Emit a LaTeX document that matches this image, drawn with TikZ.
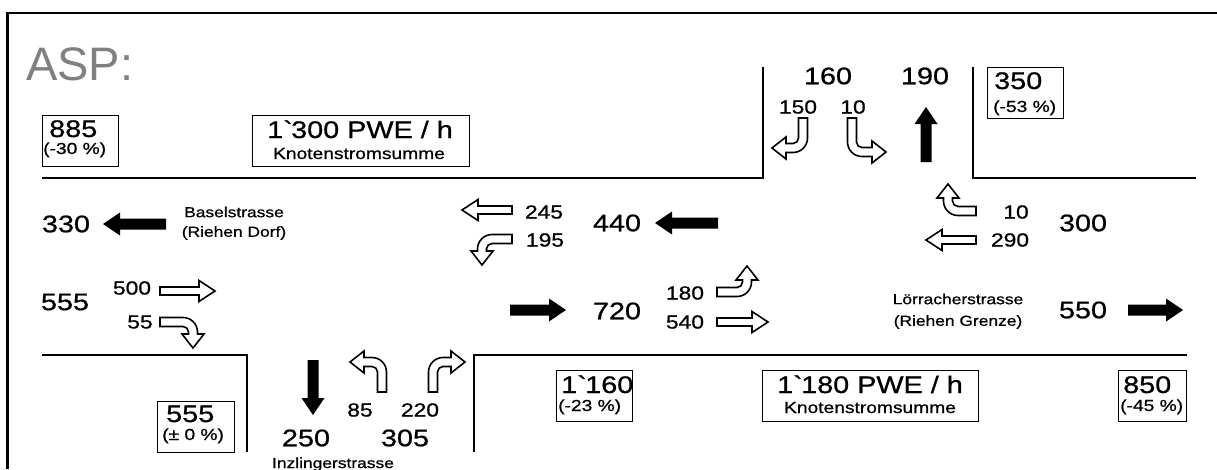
\documentclass[tikz,border=0pt]{standalone}
\usepackage{fontspec}
\setmainfont[FakeStretch=1.2, FakeBold=0.8]{Liberation Sans}
\newfontfamily\aspfont{Liberation Sans}
\begin{document}
\begin{tikzpicture}[x=1pt,y=-1pt,
  bigt/.style={font=\fontsize{24}{26}\selectfont, inner sep=0pt},
  smallt/.style={font=\fontsize{19}{21}\selectfont, inner sep=0pt},
  subt/.style={font=\fontsize{16}{18}\selectfont, inner sep=0pt},
  lbl/.style={font=\fontsize{14.5}{16}\selectfont, inner sep=0pt},
  boxst/.style={draw, line width=1.2pt, inner sep=0pt, anchor=north west},
  road/.style={line width=2.5pt},
  arrline/.style={draw, line width=1.6pt, line join=miter},
  pics/blk/.style={code={\fill (0,-5.5) -- (#1-17,-5.5) -- (#1-17,-11.5) -- (#1,0) -- (#1-17,11.5) -- (#1-17,5.5) -- (0,5.5) -- cycle;}},
  pics/hol/.style={code={\draw[arrline] (0,-4) -- (#1-16,-4) -- (#1-16,-10.5) -- (#1,0) -- (#1-16,10.5) -- (#1-16,4) -- (0,4) -- cycle;}},
  pics/turn/.style n args={3}{code={\draw[arrline] (0,-4.5) -- (#1,-4.5) arc[start angle=-90,end angle=0,radius=#2+4.5] -- ++(0,#3) -- ++(6.5,0) -- ++(-11,14) -- ++(-11,-14) -- ++(6.5,0) -- ++(0,-#3) arc[start angle=0,end angle=-90,radius=#2-4.5] -- (0,4.5) -- cycle;}}
]
\useasboundingbox (0,0) rectangle (1217,469);
% frame
\draw[line width=2.5pt] (7.5,469) -- (7.5,13) -- (1217,13);
% title
\node[anchor=base west, inner sep=0pt, text=black!50, font=\aspfont\fontsize{47}{49}\selectfont] (asp) at (26,80) {ASP:};
% road edges
\draw[road] (42,178) -- (763,178) -- (763,67);
\draw[road] (973,67) -- (973,178) -- (1196,178);
\draw[road] (42,355) -- (247,355) -- (247,452);
\draw[road] (474,452) -- (474,355) -- (1187,355);
% boxes
\node[boxst, minimum width=76, minimum height=51] (b885) at (42,115) {};
\node[bigt, anchor=base west] (t885) at (49,137) {885};
\node[subt, anchor=base west] (p885) at (43,154) {(-30 \%)};
\node[boxst, minimum width=217, minimum height=51] (b1300) at (252,115) {};
\node[bigt, anchor=base] (t1300) at (360,138) {1\textasciigrave 300 PWE / h};
\node[subt, anchor=base] (k1300) at (359,159) {Knotenstromsumme};
\node[boxst, minimum width=76, minimum height=51] (b350) at (987,67) {};
\node[bigt, anchor=base west] (t350) at (994,89) {350};
\node[subt, anchor=base west] (p350) at (993,112) {(-53 \%)};
\node[boxst, minimum width=77, minimum height=51] (b555) at (157,401) {};
\node[bigt, anchor=base west] (t555b) at (166,422) {555};
\node[subt, anchor=base west] (p555) at (162,440) {(± 0 \%)};
\node[boxst, minimum width=76, minimum height=51] (b1160) at (556,370) {};
\node[bigt, anchor=base west] (t1160) at (561,393) {1\textasciigrave 160};
\node[subt, anchor=base west] (p1160) at (558,411) {(-23 \%)};
\node[boxst, minimum width=216, minimum height=51] (b1180) at (762,370) {};
\node[bigt, anchor=base] (t1180) at (870,393) {1\textasciigrave 180 PWE / h};
\node[subt, anchor=base] (k1180) at (870,413) {Knotenstromsumme};
\node[boxst, minimum width=68, minimum height=51] (b850) at (1118,370) {};
\node[bigt, anchor=base west] (t850) at (1123,393) {850};
\node[subt, anchor=base west] (p850) at (1120,411) {(-45 \%)};
% big numbers
\node[bigt] (n330) at (66,224) {330};
\node[bigt] (n555) at (65,302) {555};
\node[bigt] (n440) at (617,223) {440};
\node[bigt] (n720) at (617,311) {720};
\node[bigt] (n300) at (1083,223) {300};
\node[bigt] (n550) at (1083,310) {550};
\node[bigt] (n160) at (828,76) {160};
\node[bigt] (n190) at (925,76) {190};
\node[bigt] (n250) at (306,438) {250};
\node[bigt] (n305) at (405,438) {305};
% small numbers
\node[smallt] (s150) at (798,107) {150};
\node[smallt] (s10a) at (853,107) {10};
\node[smallt] (s500) at (132,288) {500};
\node[smallt] (s55) at (140,322) {55};
\node[smallt] (s245) at (544,212) {245};
\node[smallt] (s195) at (545,240) {195};
\node[smallt] (s180) at (685,293) {180};
\node[smallt] (s540) at (685,322) {540};
\node[smallt] (s10b) at (1016,212) {10};
\node[smallt] (s290) at (1010,240) {290};
\node[smallt] (s85) at (360,410) {85};
\node[smallt] (s220) at (420,410) {220};
% street names
\node[lbl] (basel1) at (234,212) {Baselstrasse};
\node[lbl] (basel2) at (234,233) {(Riehen Dorf)};
\node[lbl] (loer1) at (958,299) {Lörracherstrasse};
\node[lbl] (loer2) at (958,322) {(Riehen Grenze)};
\node[lbl, anchor=base] (inz) at (333,468) {Inzlingerstrasse};
% solid arrows
\pic[rotate=180] at (166,224) {blk=63};
\pic[rotate=180] at (718,223) {blk=63};
\pic at (510,310) {blk=56};
\pic at (1128,310) {blk=55};
\pic[rotate=90] at (926,162) {blk=55};
\pic[rotate=-90] at (313,360) {blk=55};
% hollow straight arrows
\pic at (160,291) {hol=55};
\pic[rotate=180] at (512,210) {hol=50};
\pic at (717,322) {hol=51};
\pic[rotate=180] at (976,240) {hol=50};
% hollow turn arrows
\pic at (160,322) {turn={23}{10}{2}};
\pic[xscale=-1] at (512,239) {turn={20}{10}{2}};
\pic[rotate=-90] at (803,118) {turn={20}{10}{7}};
\pic[rotate=-90, yscale=-1] at (852,118) {turn={24}{10}{10}};
\pic[yscale=-1] at (717,292) {turn={20}{10}{2}};
\pic[rotate=180] at (976,211) {turn={18}{10}{3}};
\pic[rotate=90, yscale=-1] at (382,392) {turn={20}{10}{8}};
\pic[rotate=90] at (433,392) {turn={20}{10}{8}};
\end{tikzpicture}
\end{document}
